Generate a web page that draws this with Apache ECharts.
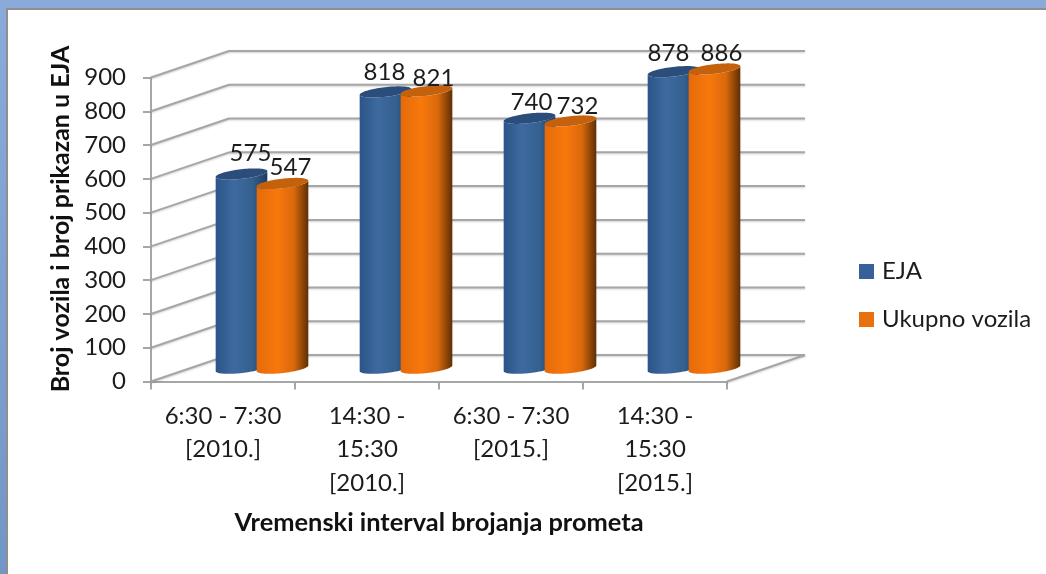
<!DOCTYPE html>
<html><head><meta charset="utf-8">
<style>html,body{margin:0;padding:0;background:#fff}#c{width:1046px;height:574px}</style>
<script src="https://cdn.jsdelivr.net/npm/echarts@6/dist/echarts.min.js"></script>
</head><body><div id="c"></div>
<script>
const categories = ['6:30 - 7:30\n[2010.]', '14:30 -\n15:30\n[2010.]', '6:30 - 7:30\n[2015.]', '14:30 -\n15:30\n[2015.]'];
const ejaValues = [575, 818, 740, 878];
const ukupnoValues = [547, 821, 732, 886];
const wallTicks = [0, 100, 200, 300, 400, 500, 600, 700, 800, 900];
const ejaLabelShift = [[9, -21], [-1, -20], [2, -16], [-5, -18]];
const ukupnoLabelShift = [[8, -16], [7, -13], [7, -15], [7, -16]];

const DX = 78, DY = -26.5, FONT = 'Lato, Carlito, sans-serif', GREY = '#a6a6a6', INK = '#1c1c1c';

function ellipsePts(cx, cy, rx, ry, tilt, from, to) {
  const pts = [], n = 40;
  for (let i = 0; i <= n; i++) {
    const t = from + (to - from) * i / n;
    const x = rx * Math.cos(t), y = ry * Math.sin(t);
    pts.push([cx + x * Math.cos(tilt) - y * Math.sin(tilt), cy + x * Math.sin(tilt) + y * Math.cos(tilt)]);
  }
  return pts;
}

function cylinder(shift, body, top, labelShift) {
  return function (params, api) {
    const i = api.value(0), v = api.value(1);
    const base = api.coord([i, 0]), head = api.coord([i, v]);
    const cx = base[0] + DX / 2 + shift, yBase = base[1] + DY / 2, yTop = head[1] + DY / 2;
    const rx = 26, ry = 4.8, tilt = -0.115;
    const back = ellipsePts(cx, yTop, rx, ry, tilt, Math.PI, 2 * Math.PI);
    const topFront = ellipsePts(cx, yTop, rx, ry, tilt, 0, Math.PI);
    const botFront = ellipsePts(cx, yBase, rx, ry, tilt, 0, Math.PI);
    const side = topFront.slice().reverse().concat(botFront);
    const s = labelShift[i];
    return { type: 'group', children: [
      { type: 'polygon', shape: { points: side }, style: { fill: { type: 'linear', x: 0, y: 0, x2: 1, y2: 0, colorStops: body } } },
      { type: 'polygon', shape: { points: back.concat(topFront) }, style: { fill: top } },
      { type: 'text', z2: 50, style: { x: cx + s[0], y: yTop + s[1], text: String(v), align: 'center', verticalAlign: 'middle', font: '24px ' + FONT, fill: INK } }
    ] };
  };
}

const blueStops = [{offset:0,color:'#2c5487'},{offset:.35,color:'#3d6aa0'},{offset:.7,color:'#35608f'},{offset:1,color:'#1f3c60'}];
const orangeStops = [{offset:0,color:'#e56a0a'},{offset:.4,color:'#f8780c'},{offset:.72,color:'#d9690b'},{offset:1,color:'#5e2f05'}];

const chart = echarts.init(document.getElementById('c'), null, { renderer: 'canvas' });
chart.setOption({
  animation: false,
  backgroundColor: '#fff',
  textStyle: { fontFamily: FONT },
  graphic: [
    { type: 'rect', silent: true, z: -10, shape: { x: 0, y: 0, width: 1046, height: 8 }, style: { fill: '#8aabd9' } },
    { type: 'rect', silent: true, z: -10, shape: { x: 0, y: 0, width: 6, height: 574 }, style: { fill: { type: 'linear', x: 0, y: 0, x2: 0, y2: 1, colorStops: [{offset:0,color:'#8aabd9'},{offset:1,color:'#7197c6'}] } } },
    { type: 'rect', silent: true, z: -9, shape: { x: 6, y: 8, width: 1040, height: 2 }, style: { fill: '#8f8f8f' } },
    { type: 'rect', silent: true, z: -9, shape: { x: 6, y: 8, width: 2, height: 566 }, style: { fill: '#8f8f8f' } }
  ],
  grid: { left: 151, top: 77.5, width: 576, height: 304 },
  legend: {
    orient: 'vertical', left: 859, top: 259.5, padding: 0, itemWidth: 15, itemHeight: 15, itemGap: 24, icon: 'rect',
    data: ['EJA', 'Ukupno vozila'],
    textStyle: { fontFamily: FONT, fontSize: 24, lineHeight: 24, color: INK, padding: [0, 0, 0, 3] }
  },
  xAxis: {
    type: 'category', data: categories,
    axisLine: { lineStyle: { color: GREY, width: 2 } },
    axisTick: { show: true, length: 8, lineStyle: { color: GREY, width: 2 } },
    axisLabel: { fontFamily: FONT, fontSize: 24, color: INK, lineHeight: 33.5, margin: 18, interval: 0 },
    name: 'Vremenski interval brojanja prometa', nameLocation: 'middle', nameGap: 129,
    nameTextStyle: { fontFamily: FONT, fontSize: 25.4, fontWeight: 'bold', color: '#111' }
  },
  yAxis: {
    type: 'value', min: 0, max: 900, interval: 100,
    splitLine: { show: false },
    axisLine: { show: true, lineStyle: { color: GREY, width: 2 } },
    axisTick: { show: true, length: 8, lineStyle: { color: GREY, width: 2 } },
    axisLabel: { fontFamily: FONT, fontSize: 24, color: INK, margin: 25, padding: [4, 0, 0, 0] },
    name: 'Broj vozila i broj prikazan u EJA', nameLocation: 'middle', nameGap: 76, nameRotate: 90,
    nameTextStyle: { fontFamily: FONT, fontSize: 25, fontWeight: 'bold', color: '#111', padding: [0, 0, 0, 21] }
  },
  series: [
    {
      type: 'custom', name: 'walls', silent: true, z: 1, clip: false,
      data: wallTicks.map(t => [t]),
      encode: { y: 0 },
      renderItem(params, api) {
        const v = api.value(0);
        const left = api.coord([0, v]), right = api.coord([categories.length - 1, v]);
        const band = api.size([1, 0])[0];
        const x0 = left[0] - band / 2, x1 = right[0] + band / 2, y = left[1];
        const ls = { stroke: GREY, lineWidth: 2, fill: null, shadowColor: 'rgba(0,0,0,0.18)', shadowBlur: 2, shadowOffsetY: 1 };
        const kids = [
          { type: 'line', shape: { x1: x0, y1: y, x2: x0 + DX, y2: y + DY }, style: ls },
          { type: 'line', shape: { x1: x0 + DX, y1: y + DY, x2: x1 + DX, y2: y + DY }, style: ls }
        ];
        if (v === 0) kids.push({ type: 'line', shape: { x1: x1, y1: y, x2: x1 + DX, y2: y + DY }, style: ls });
        return { type: 'group', children: kids };
      }
    },
    {
      type: 'custom', name: 'EJA', z: 3, clip: false, itemStyle: { color: '#376299' },
      data: ejaValues.map((v, i) => [i, v]), encode: { x: 0, y: 1 },
      renderItem: cylinder(-20.5, blueStops, '#2a4d7c', ejaLabelShift)
    },
    {
      type: 'custom', name: 'Ukupno vozila', z: 4, clip: false, itemStyle: { color: '#e8700f' },
      data: ukupnoValues.map((v, i) => [i, v]), encode: { x: 0, y: 1 },
      renderItem: cylinder(20.5, orangeStops, '#c4610c', ukupnoLabelShift)
    }
  ]
});
</script></body></html>
